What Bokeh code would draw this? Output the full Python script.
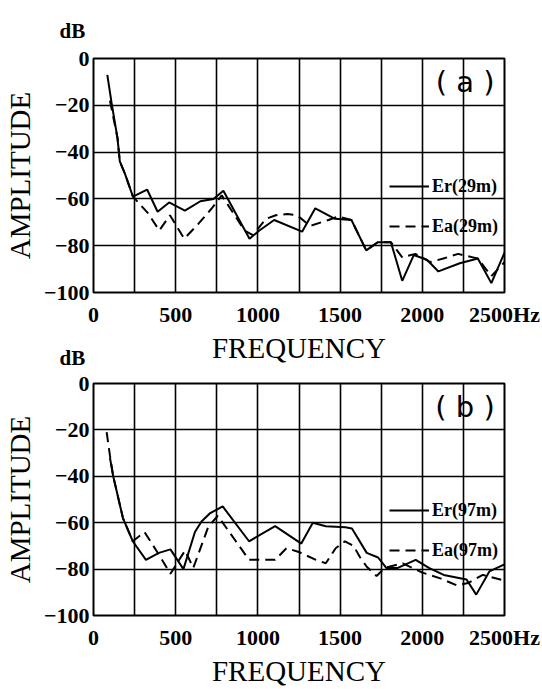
from bokeh.plotting import figure
from bokeh.models import Range1d, FixedTicker, Label, Legend, LegendItem
from bokeh.layouts import column
from bokeh.embed import file_html
from bokeh.resources import INLINE

# ---------------- data ----------------
x_ticks = [0, 500, 1000, 1500, 2000, 2500]
x_grid_ticks = [0, 250, 500, 750, 1000, 1250, 1500, 1750, 2000, 2250, 2500]
y_ticks = [-100, -80, -60, -40, -20, 0]
x_label_overrides = {2500: "2500Hz"}

# panel (a), 29 m
freq_er_29 = [84, 110, 146, 160, 190, 240, 326, 390, 460, 556, 650, 730, 790, 949, 1009, 1099,
              1269, 1349, 1469, 1569, 1659, 1729, 1809, 1878, 1948, 2028, 2098, 2228, 2338, 2420, 2500]
amp_er_29 = [-7, -19, -34, -44, -49, -59, -56, -65.5, -61.5, -65, -61, -60, -56.5, -77, -73.5, -69,
             -74, -64, -68.5, -69, -82, -78.5, -78.5, -95, -84, -86, -91, -87.5, -85.5, -96, -83]
freq_ea_29 = [100, 146, 160, 190, 240, 330, 400, 465, 552, 640, 720, 780, 919, 969, 1049, 1109, 1179,
              1239, 1290, 1319, 1429, 1489, 1569, 1659, 1729, 1809, 1878, 1958, 2048, 2128, 2218, 2308,
              2338, 2420, 2500]
amp_ea_29 = [-18, -34, -44, -49, -59, -66, -73.5, -67, -77, -70.5, -64, -58.5, -73.5, -75.5, -68.5, -67,
             -66.5, -67, -70, -71.5, -69, -67.5, -69, -82, -78.5, -78.5, -85, -83.5, -87, -85.5, -83.5,
             -85, -85.5, -93, -87]

# panel (b), 97 m
freq_er_97 = [100, 120, 179, 239, 319, 398, 468, 547, 617, 657, 707, 786, 946, 1105, 1264, 1334, 1413,
              1532, 1572, 1662, 1731, 1781, 1851, 1960, 2040, 2130, 2269, 2328, 2408, 2500]
amp_er_97 = [-32, -40, -58, -68, -76, -73, -71.5, -80, -64, -59.5, -56, -53, -68, -61.5, -69, -60, -61.5,
             -62, -62.5, -73, -75, -79.5, -79.5, -76, -79.5, -82.5, -84.5, -91, -81, -78]
freq_ea_97 = [80, 100, 120, 179, 239, 310, 400, 468, 557, 607, 697, 756, 866, 946, 1035, 1105, 1174,
              1244, 1353, 1413, 1473, 1530, 1582, 1622, 1662, 1722, 1771, 1881, 2000, 2110, 2209, 2279,
              2368, 2500]
amp_ea_97 = [-21, -31, -40, -58, -68, -64, -74, -82, -72, -79.5, -62, -57, -68, -76, -76, -76, -71,
             -72.5, -76, -77.5, -71, -68, -70, -75, -79, -83, -79.5, -77.5, -81.5, -84, -87, -86,
             -82.5, -85]

SERIF = "Liberation Serif"


def make_panel(tag, fe, ae, fa, aa, lab_er, lab_ea, height, top, bottom, leg_y, db_standoff):
    p = figure(width=542, height=height, output_backend="svg", toolbar_location=None,
               x_range=Range1d(0, 2500), y_range=Range1d(-100, 0),
               min_border_left=85, min_border_right=38, min_border_top=top,
               min_border_bottom=bottom)
    p.background_fill_color = "white"
    p.outline_line_color = "black"
    p.outline_line_width = 2
    p.outline_line_alpha = 1

    # unit label "dB" above the axis
    p.title.text = "dB"
    p.title.align = "left"
    p.title.offset = -34
    p.title.standoff = db_standoff
    p.title.text_font = SERIF
    p.title.text_font_size = "21px"
    p.title.text_font_style = "bold"
    p.title.text_color = "black"

    p.xaxis.ticker = FixedTicker(ticks=x_ticks)
    p.xaxis.major_label_overrides = x_label_overrides
    p.yaxis.ticker = FixedTicker(ticks=y_ticks)
    p.xgrid.ticker = FixedTicker(ticks=x_grid_ticks)
    p.ygrid.ticker = FixedTicker(ticks=y_ticks)
    p.grid.grid_line_color = "black"
    p.grid.grid_line_width = 1.6
    p.grid.grid_line_alpha = 1

    p.axis.axis_line_color = None
    p.axis.major_tick_in = 0
    p.axis.major_tick_out = 0
    p.axis.minor_tick_in = 0
    p.axis.minor_tick_out = 0
    p.axis.major_label_text_font = SERIF
    p.axis.major_label_text_font_size = "22px"
    p.axis.major_label_text_font_style = "bold"
    p.axis.major_label_text_color = "black"
    p.xaxis.major_label_standoff = 9
    p.yaxis.major_label_standoff = 4

    p.xaxis.axis_label = "FREQUENCY"
    p.yaxis.axis_label = "AMPLITUDE"
    p.axis.axis_label_text_font = SERIF
    p.axis.axis_label_text_font_size = "29px"
    p.axis.axis_label_text_font_style = "normal"
    p.axis.axis_label_text_color = "black"
    p.xaxis.axis_label_standoff = 2
    p.yaxis.axis_label_standoff = 5

    r_er = p.line(fe, ae, line_color="black", line_width=2)
    r_ea = p.line(fa, aa, line_color="black", line_width=2, line_dash="10 6")

    legend = Legend(items=[LegendItem(label=lab_er, renderers=[r_er]),
                           LegendItem(label=lab_ea, renderers=[r_ea])],
                    location=(296, leg_y), orientation="vertical",
                    background_fill_alpha=0, border_line_alpha=0,
                    padding=0, margin=0, spacing=18,
                    glyph_width=40, glyph_height=22, label_height=22, label_standoff=3,
                    label_text_font=SERIF, label_text_font_size="18px",
                    label_text_font_style="bold", label_text_color="black")
    p.add_layout(legend)

    p.add_layout(Label(x=2260, y=-10, text=tag, text_align="center", text_baseline="middle",
                       text_font="DejaVu Sans", text_font_size="29px", text_color="black"))
    return p


pa = make_panel("( a )", freq_er_29, amp_er_29, freq_ea_29, amp_ea_29,
                "Er(29m)", "Ea(29m)", 366, 58, 74, 55, 31)
pb = make_panel("( b )", freq_er_97, amp_er_97, freq_ea_97, amp_ea_97,
                "Er(97m)", "Ea(97m)", 361, 55, 73, 54, 27)
pb.border_fill_alpha = 0
pb.margin = (-38, 0, 0, 0)

layout = column(pa, pb, spacing=0)
open("out.html", "w").write(file_html(layout, INLINE))
